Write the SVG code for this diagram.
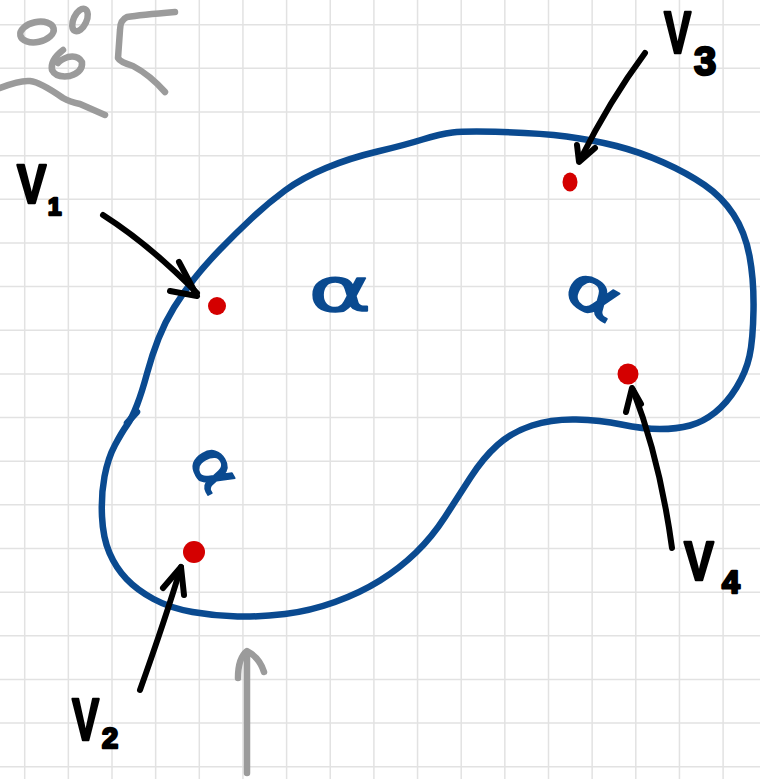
<svg xmlns="http://www.w3.org/2000/svg" width="760" height="779" viewBox="0 0 760 779">
<defs>
<style>
.grid line{stroke:#e2e2e2;stroke-width:1.5}
.blue{fill:none;stroke:#0a4a90;stroke-width:6.5;stroke-linecap:round;stroke-linejoin:round}
.gray{fill:none;stroke:#9b9b9b;stroke-width:6.5;stroke-linecap:round;stroke-linejoin:round}
.blk{fill:none;stroke:#000;stroke-width:6;stroke-linecap:round;stroke-linejoin:round}
.dot{fill:#d40000}
.lbl{font-family:"Liberation Sans",Arial,sans-serif;font-weight:bold;fill:#000;stroke:#000;stroke-width:2.5;stroke-linejoin:round}
.alpha{font-family:"DejaVu Sans",sans-serif;fill:#0a4a90;stroke:#0a4a90;stroke-width:1.5;stroke-linejoin:round;text-anchor:middle}
</style>
</defs>
<rect width="760" height="779" fill="#fff"/>
<g class="grid" id="grid">
<line x1="24.7" y1="0" x2="24.7" y2="779"/><line x1="68.35" y1="0" x2="68.35" y2="779"/><line x1="112" y1="0" x2="112" y2="779"/><line x1="155.65" y1="0" x2="155.65" y2="779"/><line x1="199.3" y1="0" x2="199.3" y2="779"/><line x1="242.95" y1="0" x2="242.95" y2="779"/><line x1="286.6" y1="0" x2="286.6" y2="779"/><line x1="330.25" y1="0" x2="330.25" y2="779"/><line x1="373.9" y1="0" x2="373.9" y2="779"/><line x1="417.55" y1="0" x2="417.55" y2="779"/><line x1="461.2" y1="0" x2="461.2" y2="779"/><line x1="504.85" y1="0" x2="504.85" y2="779"/><line x1="548.5" y1="0" x2="548.5" y2="779"/><line x1="592.15" y1="0" x2="592.15" y2="779"/><line x1="635.8" y1="0" x2="635.8" y2="779"/><line x1="679.45" y1="0" x2="679.45" y2="779"/><line x1="723.1" y1="0" x2="723.1" y2="779"/>
<line x1="0" y1="24.7" x2="760" y2="24.7"/><line x1="0" y1="68.35" x2="760" y2="68.35"/><line x1="0" y1="112" x2="760" y2="112"/><line x1="0" y1="155.65" x2="760" y2="155.65"/><line x1="0" y1="199.3" x2="760" y2="199.3"/><line x1="0" y1="242.95" x2="760" y2="242.95"/><line x1="0" y1="286.6" x2="760" y2="286.6"/><line x1="0" y1="330.25" x2="760" y2="330.25"/><line x1="0" y1="373.9" x2="760" y2="373.9"/><line x1="0" y1="417.55" x2="760" y2="417.55"/><line x1="0" y1="461.2" x2="760" y2="461.2"/><line x1="0" y1="504.85" x2="760" y2="504.85"/><line x1="0" y1="548.5" x2="760" y2="548.5"/><line x1="0" y1="592.15" x2="760" y2="592.15"/><line x1="0" y1="635.8" x2="760" y2="635.8"/><line x1="0" y1="679.45" x2="760" y2="679.45"/><line x1="0" y1="723.1" x2="760" y2="723.1"/><line x1="0" y1="766.75" x2="760" y2="766.75"/>
</g>
<g id="scribbles" class="gray">
<ellipse cx="37" cy="32" rx="17" ry="10" transform="rotate(-12 37 32)"/>
<ellipse cx="80" cy="20" rx="6.5" ry="12" transform="rotate(25 80 20)"/>
<path d="M63,50 Q50,60 52,70 Q56,78 70,76 Q83,72 82,62 Q78,55 68,57 Q60,60 58,63"/>
<path d="M175,12 Q140,15 127,17 Q120,20 120,30 L118,58 Q120,62 133,66 Q150,75 165,92"/>
<path d="M0,88 Q20,80 30,81 Q40,82 63,98 Q70,102 80,104 L105,115"/>
</g>
<g id="region">
<path class="blue" d="M502.5,132 Q540,133 566.5,136.5 Q593,140 616.5,146 Q640,152 663.5,162.5 Q687,173 704.5,185 Q722,197 733.5,214.5 Q745,232 749.5,256 Q754,280 753.5,310 Q753,340 749.5,356 Q746,372 736.5,387.5 Q727,403 715,412.5 Q703,422 690,425.5 Q677,429 660,429 Q643,429 621.5,424.5 Q600,420 576,419.5 Q552,419 532,425.5 Q512,432 497.5,445 Q483,458 470.5,477.5 Q458,497 445,517 Q432,537 416,552.5 Q400,568 380,580.5 Q360,593 335,602 Q310,611 285,614 Q260,617 237.5,616.5 Q215,616 192.5,612 Q170,608 153.5,599 Q137,590 126.5,579 Q116,568 109.5,553 Q103,538 102,516.5 Q101,495 104.5,476.5 Q108,458 115,445 Q122,432 127,425 Q132,418 137,405 Q142,392 147,373.5 Q152,355 158.5,338.5 Q165,322 174,307.5 Q183,293 194,279 Q205,265 220,249.5 Q235,234 251.5,218.5 Q268,203 285,190.5 Q302,178 326,168 Q350,158 377.5,151.5 Q405,145 422.5,139.5 Q440,134 452.5,132.5 Q465,131 502.5,132 Z"/>
<path class="blue" d="M127,423 L137,412"/>
</g>
<g id="alphas">
<text class="alpha" font-size="60" transform="translate(340,311) scale(1.6,1)">α</text>
<text class="alpha" font-size="60" transform="translate(592,297) rotate(30) scale(1.4,1)" dy="16">α</text>
<text class="alpha" font-size="58" transform="translate(212,470) rotate(60) scale(1.2,1)" dy="16">α</text>
</g>
<g id="dots">
<circle class="dot" cx="217" cy="306" r="9"/>
<ellipse class="dot" cx="570" cy="182" rx="7.5" ry="9.5"/>
<circle class="dot" cx="628" cy="374" r="10.5"/>
<circle class="dot" cx="194" cy="552" r="11"/>
</g>
<g id="connectors">
<path class="blk" d="M103,215 Q150,245 197,293"/>
<path class="blk" d="M179,262 L197,296 L170,291"/>
<path class="blk" d="M645,53 Q610,100 580,160"/>
<path class="blk" d="M577,145 L579,162 L595,148"/>
<path class="blk" d="M672,548 Q660,460 633,390"/>
<path class="blk" d="M626,412 L632,388 L641,404"/>
<path class="blk" d="M140,690 Q165,620 181,567"/>
<path class="blk" d="M163,588 L181,567 L184,595"/>
<path class="gray" d="M247,773 L247,652"/>
<path class="gray" d="M238,678 Q238,658 247,651 Q260,658 264,672"/>
</g>
<g id="labels">
<g id="v1"><text class="lbl" font-size="55" transform="translate(17,203) scale(0.8,1)">V</text><text class="lbl" font-size="24" x="48" y="215">1</text></g>
<g id="v3"><text class="lbl" font-size="60" transform="translate(664,53) scale(0.68,1)">V</text><text class="lbl" font-size="40" x="694" y="75">3</text></g>
<g id="v4"><text class="lbl" font-size="56" transform="translate(684,580) scale(0.8,1)">V</text><text class="lbl" font-size="32" x="722" y="593">4</text></g>
<g id="v2"><text class="lbl" font-size="60" transform="translate(72,740) scale(0.68,1)">V</text><text class="lbl" font-size="29" x="102" y="748">2</text></g>
</g>
</svg>
